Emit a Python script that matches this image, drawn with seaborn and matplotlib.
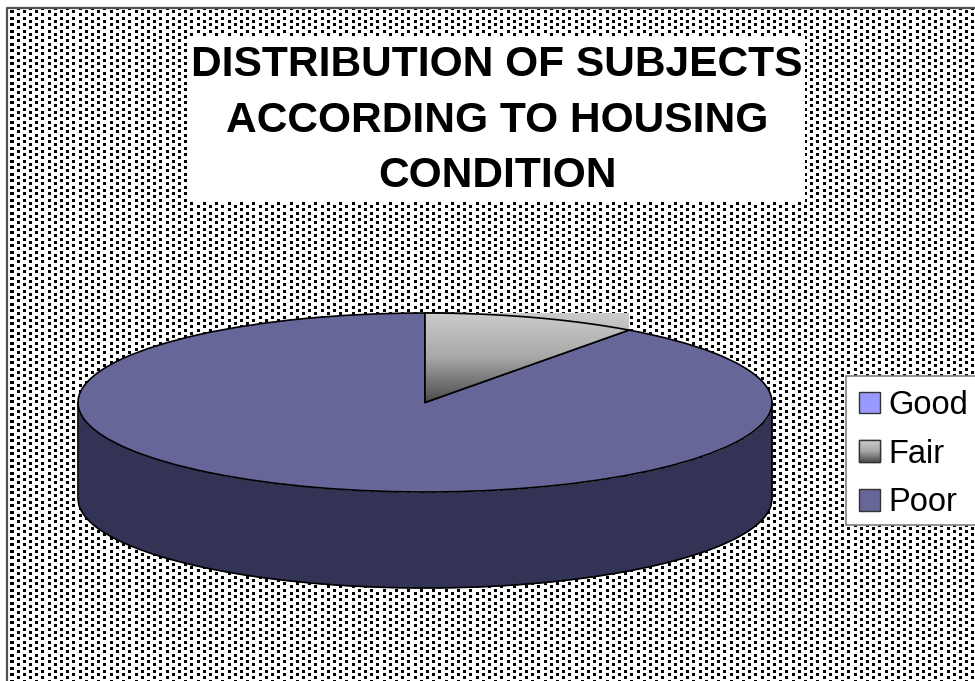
import numpy as np
import matplotlib
matplotlib.use("Agg")
import matplotlib.pyplot as plt
from matplotlib.colors import LinearSegmentedColormap
from matplotlib.patches import Patch, Polygon, Rectangle
import seaborn as sns

# Survey shares by housing condition
conditions = ["Good", "Fair", "Poor"]
shares = [0, 10, 90]
title_text = "DISTRIBUTION OF SUBJECTS\nACCORDING TO HOUSING\nCONDITION"

sns.set_theme(style="white")
plt.rcParams["font.family"] = ["Liberation Sans", "DejaVu Sans"]
palette = sns.color_palette(["#9999ff", "#a0a0a0", "#666699"])
WALL = "#333355"
FAIR_RAMP = LinearSegmentedColormap.from_list("fair", ["#cccccc", "#a8a8a8", "#4c4c4c"])

W, H = 975, 681
fig = plt.figure(figsize=(W / 100, H / 100), dpi=100, facecolor="white")

# Canvas axes, measured in pixels with the origin at the top left
ax = fig.add_axes([0, 0, 1, 1])
ax.set_xlim(0, W)
ax.set_ylim(H, 0)
ax.axis("off")

# Dotted plot-area fill: staggered columns of small squares
yy, xx = np.mgrid[0:H, 0:W]
col = np.floor((xx - 3.8) / 6.2).astype(int)
row = np.floor(yy / 3.25).astype(int)
dots = ((col + row) % 2 == 0) & ((xx - 3.8) % 6.2 < 3.0) & (yy % 3.25 < 3.0)
pattern = np.where(dots, 0.0, 1.0)
pattern[:9, :] = 1.0
pattern[:, :8] = 1.0
ax.imshow(pattern, cmap="gray", vmin=0, vmax=1, extent=(0, W, H, 0),
          aspect="auto", interpolation="nearest", zorder=0)
ax.set_xlim(0, W)
ax.set_ylim(H, 0)
ax.plot([7, 7, W], [H, 8, 8], color="#505050", lw=1.6, zorder=1)

# Title on its white panel
ax.add_patch(Rectangle((187, 36), 618, 166, fc="white", ec="none", zorder=2))
ax.text(497, 120.5, title_text, ha="center", va="center", ma="center",
        fontsize=30.6, fontweight="bold", color="black", linespacing=1.5, zorder=3)

# Disc geometry
cx, cy, rx, ry, depth = 425, 402.5, 347, 89.5, 96

# Side wall of the disc
xs = np.linspace(cx - rx, cx + rx, 800)
arc = cy + ry * np.sqrt(np.clip(1 - ((xs - cx) / rx) ** 2, 0, 1))
ax.fill_between(xs, arc, arc + depth, color=WALL, lw=0, zorder=3)
ax.plot(np.r_[xs[0], xs, xs[-1]], np.r_[arc[0], arc + depth, arc[-1]],
        color="black", lw=1.2, zorder=4)

# Top face: a pie stretched into an ellipse by its own axes
pie_ax = fig.add_axes([(cx - rx) / W, 1 - (cy + ry) / H, 2 * rx / W, 2 * ry / H])
wedges, _ = pie_ax.pie(shares, colors=palette, startangle=90, counterclock=False,
                       radius=1, wedgeprops=dict(edgecolor="black", linewidth=1.2))
pie_ax.set_aspect("auto")
pie_ax.set_xlim(-1, 1)
pie_ax.set_ylim(-1, 1)
pie_ax.patch.set_alpha(0)
pie_ax.axis("off")

# Fair slice carries a vertical grey ramp, squared off at the slice's outer corner
fair = wedges[conditions.index("Fair")]
end = np.deg2rad(min(fair.theta1, fair.theta2))
ex, ey = np.cos(end), np.sin(end)
grad = np.linspace(0, 1, 256).reshape(-1, 1)
img = pie_ax.imshow(grad, cmap=FAIR_RAMP, extent=(-1, 1, 0, 1), aspect="auto",
                    origin="upper", zorder=fair.get_zorder() + 0.5)
clip = Polygon([(0, 0), (0, 1), (ex, 1), (ex, ey)], closed=True,
               transform=pie_ax.transData)
img.set_clip_path(clip)
pie_ax.set_aspect("auto")
pie_ax.set_xlim(-1, 1)
pie_ax.set_ylim(-1, 1)
ts = np.linspace(np.pi / 2, end, 80)
pie_ax.plot(np.r_[0, 0, np.cos(ts), 0], np.r_[0, 1, np.sin(ts), 0], color="black",
            lw=1.2, zorder=fair.get_zorder() + 0.6, clip_on=False)

# Legend panel running off the right edge of the canvas, with the entries on top
ax.add_patch(Rectangle((846, 376), 140, 149, fc="white", ec="#808080", lw=1.2, zorder=4.5))
handles = [Patch(facecolor=c, edgecolor="#333333", lw=1.0) for c in palette]
leg = ax.legend(handles, conditions, loc="upper left", bbox_to_anchor=(846 / W, 1 - 377 / H),
                bbox_transform=fig.transFigure, borderaxespad=0, fontsize=23.5,
                handlelength=0.64, handleheight=0.64, handletextpad=0.26,
                labelspacing=0.54, borderpad=0.4, frameon=False, labelcolor="black")
leg.set_zorder(5)

# Repeat the grey ramp inside the Fair legend key
fig.canvas.draw()
key = leg.legend_handles[conditions.index("Fair")].get_window_extent()
(x0, y0), (x1, y1) = ax.transData.inverted().transform([(key.x0, key.y0), (key.x1, key.y1)])
ax.imshow(grad, cmap=FAIR_RAMP, extent=(x0, x1, y0, y1), aspect="auto", origin="upper", zorder=6)
ax.add_patch(Rectangle((x0, y1), x1 - x0, y0 - y1, fc="none", ec="#333333", lw=1.0, zorder=7))
ax.set_xlim(0, W)
ax.set_ylim(H, 0)

fig.savefig("out.png", dpi=100, facecolor="white")
